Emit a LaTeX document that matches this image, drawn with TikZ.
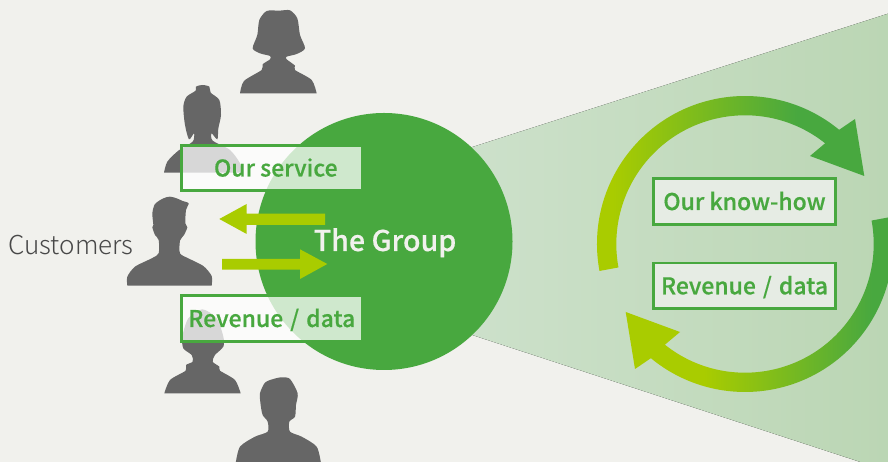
\documentclass[tikz,border=0pt]{standalone}
\usepackage{fontspec}
\setmainfont{Noto Sans CJK JP}
\newfontfamily\medf[FakeBold=0.45]{Noto Sans CJK JP Medium}
\newfontfamily\lightf{Noto Sans CJK JP Light}
\definecolor{pagebg}{HTML}{F1F1ED}
\definecolor{grn}{HTML}{48A83F}
\definecolor{lime}{HTML}{A9CC00}
\definecolor{sil}{HTML}{666666}
\definecolor{coneL}{HTML}{CDE1CB}
\definecolor{coneR}{HTML}{BBD6B4}
\definecolor{txtgray}{HTML}{484848}
\definecolor{boxfill}{HTML}{E6ECE4}
\pgfdeclarehorizontalshading{arcup}{100bp}{color(0bp)=(lime); color(30bp)=(lime); color(63bp)=(grn); color(100bp)=(grn)}
\pgfdeclarehorizontalshading{arclow}{100bp}{color(0bp)=(lime); color(39bp)=(lime); color(69bp)=(grn); color(100bp)=(grn)}
\newcommand{\spacedslash}{\hspace{7pt}/\hspace{7pt}}
\tikzset{
  scr/.style={shift={(0,462)},yscale=-1},
  person/.style={fill=sil,draw=none},
  curve/.style={smooth,tension=0.45},
  glassbox/.style={draw=grn,line width=2.6pt,fill=white,fill opacity=.74,text opacity=1,draw opacity=1,
    minimum width=181pt,minimum height=45.5pt,inner sep=0pt,text height=17pt,text depth=0pt,font=\medf\fontsize{23}{23}\selectfont,text=grn},
  solidbox/.style={draw=grn,line width=2.6pt,fill=boxfill,
    minimum width=182pt,minimum height=45.5pt,inner sep=0pt,text height=17pt,text depth=0pt,font=\medf\fontsize{23}{23}\selectfont,text=grn},
  blockarrow/.style={fill=lime,draw=none}
}
\begin{document}
\begin{tikzpicture}[x=1pt,y=1pt]
\useasboundingbox (0,0) rectangle (888,462);
\clip (0,0) rectangle (888,462);
\fill[pagebg] (0,0) rectangle (888,462);
\begin{scope}[scr]
  % cone
  \fill[left color=coneL,right color=coneR] (460,151) -- (888,13.7) -- (888,471) -- (460,331) -- cycle;
  % people
  \begin{scope}[shift={(120,0)},scale=0.33333]
    \fill[person] plot[curve] coordinates {(360,280) (372,243) (425,210) (428,193) (450,178) (450,168) (420,160) (398,145) (412,105) (418,60) (440,33) (478,32) (510,31) (532,55) (540,105) (555,145) (530,162) (500,170) (500,178) (525,197) (525,210) (575,240) (590,280)} -- cycle;
    \fill[person] plot[curve] coordinates {(132,518) (142,485) (175,452) (218,425) (222,400) (207,418) (195,375) (190,320) (200,290) (227,272) (228,260) (247,255) (268,260) (272,278) (298,300) (303,345) (295,385) (292,418) (275,400) (278,422) (330,450) (360,490) (363,518)} -- cycle;
  \end{scope}
  \begin{scope}[shift={(120,190)},scale=0.33333]
    \fill[person] plot[curve] coordinates {(22,287) (22,260) (45,230) (95,205) (116,190) (116,150) (105,135) (97,112) (100,105) (97,70) (105,42) (130,25) (150,20) (170,25) (188,33) (206,40) (198,60) (196,100) (202,112) (192,135) (180,152) (180,190) (205,205) (250,228) (275,258) (275,287)} -- cycle;
  \end{scope}
  \begin{scope}[shift={(120,230)},scale=0.33333]
    \fill[person] plot[curve] coordinates {(133,490) (150,450) (197,422) (198,405) (218,395) (215,375) (190,355) (187,320) (205,265) (247,238) (290,265) (310,320) (310,350) (285,375) (278,395) (298,410) (300,422) (345,450) (362,490)} -- cycle;
    \fill[person] plot[curve] coordinates {(347,700) (360,650) (405,620) (443,605) (443,575) (428,555) (422,525) (420,490) (435,458) (460,447) (485,442) (510,447) (533,490) (528,525) (525,560) (508,575) (510,605) (545,620) (590,650) (603,700)} -- cycle;
  \end{scope}
  % circle
  \node[circle,fill=grn,minimum size=257pt,inner sep=0pt] (group) at (384,241.5) {};
  \node[font=\medf\fontsize{28.6}{28.6}\selectfont,text=pagebg,anchor=base] (grouplabel) at (385,251) {The Group};
  \node[font=\lightf\fontsize{26}{26}\selectfont,text=txtgray,anchor=base] (customers) at (71,255) {Customers};
  % block arrows
  \fill[blockarrow] (325,213.7) -- (246.7,213.7) -- (246.7,204) -- (219.3,219) -- (246.7,234) -- (246.7,225) -- (325,225) -- cycle;
  \fill[blockarrow] (222,259) -- (300,259) -- (300,249.3) -- (327.3,264) -- (300,279) -- (300,269.7) -- (222,269.7) -- cycle;
  % left boxes
  \node[glassbox] (service) at (271.8,168) {\hspace{8pt}Our service};
  \node[glassbox] (revenue) at (271.8,318.5) {Revenue\spacedslash data};
  % right boxes
  \node[solidbox] (knowhow) at (744.5,201.5) {Our know-how};
  \node[solidbox] (revdata) at (744.5,285.8) {Revenue\spacedslash data};
\end{scope}
% cycle arrows (y up)
\coordinate (C) at (745,218);
\coordinate (ua) at ([shift={(51.5:128.7)}]C);
\coordinate (la) at ([shift={(-128.5:128.7)}]C);
\shade[shading=arcup] ([shift={(190.5:148)}]C) arc[start angle=190.5,end angle=50.5,radius=148] -- (855,343) -- (864.3,286) -- (810,306) -- (ua) arc[start angle=51.5,end angle=190.5,radius=128.7] -- cycle;
\shade[shading=arclow] ([shift={(10.5:148)}]C) arc[start angle=10.5,end angle=-129.5,radius=148] -- (635,93) -- (625.7,150) -- (680,130) -- (la) arc[start angle=-128.5,end angle=10.5,radius=128.7] -- cycle;
\end{tikzpicture}
\end{document}
